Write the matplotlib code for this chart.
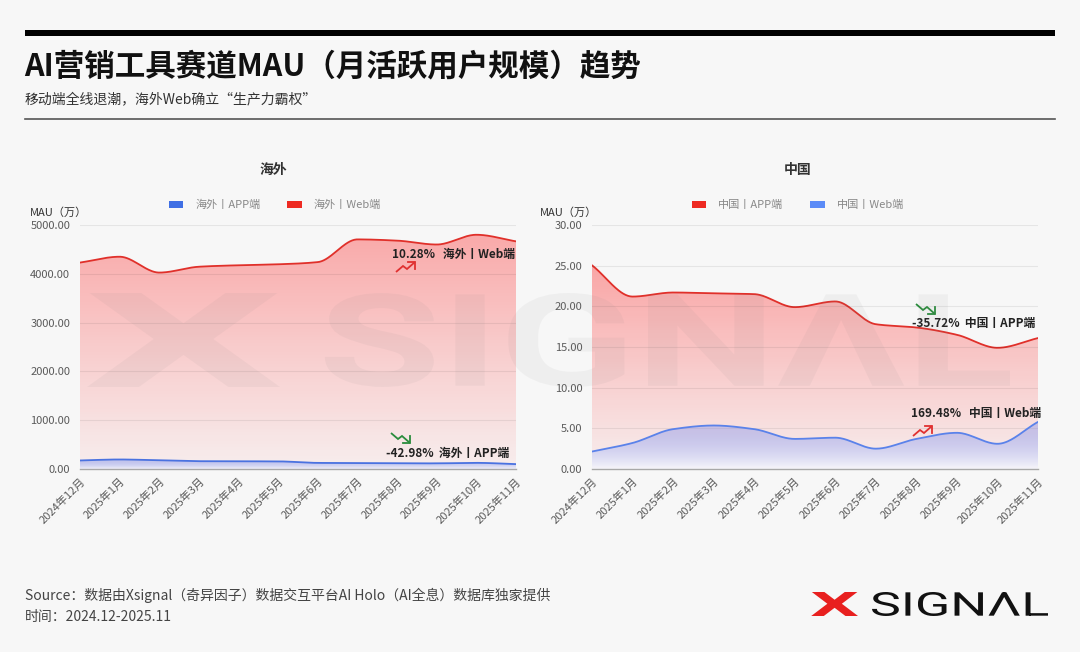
import numpy as np
import matplotlib
matplotlib.use("Agg")
import matplotlib.pyplot as plt
from matplotlib.patches import Patch, PathPatch, Rectangle
from matplotlib.path import Path
from matplotlib.textpath import TextPath
from matplotlib.font_manager import FontProperties
from matplotlib.transforms import Affine2D
from matplotlib.lines import Line2D

# ---------------- data ----------------
months = ["2024年12月", "2025年1月", "2025年2月", "2025年3月", "2025年4月", "2025年5月",
          "2025年6月", "2025年7月", "2025年8月", "2025年9月", "2025年10月", "2025年11月"]
overseas_app = [175, 195, 178, 160, 158, 156, 125, 122, 115, 116, 126, 100]
overseas_web = [4230, 4350, 4025, 4145, 4175, 4195, 4240, 4705, 4680, 4600, 4800, 4665]
china_app = [25.05, 21.2, 21.7, 21.6, 21.5, 19.9, 20.6, 17.8, 17.4, 16.5, 14.9, 16.1]
china_web = [2.15, 3.2, 4.9, 5.35, 4.9, 3.7, 3.85, 2.5, 3.7, 4.45, 3.1, 5.79]

overseas_ticks = [0, 1000, 2000, 3000, 4000, 5000]
china_ticks = [0, 5, 10, 15, 20, 25, 30]

title = "AI营销工具赛道MAU（月活跃用户规模）趋势"
subtitle = "移动端全线退潮，海外Web确立“生产力霸权”"
source = "Source：数据由Xsignal（奇异因子）数据交互平台AI Holo（AI全息）数据库独家提供"
period = "时间：2024.12-2025.11"

W, H = 1080, 652
BG = "#f7f7f7"
plt.rcParams["font.family"] = ["Noto Sans CJK SC", "DejaVu Sans"]

fig = plt.figure(figsize=(W / 100, H / 100), dpi=100, facecolor=BG)


def fx(x):
    return x / W


def fy(y):
    return 1 - y / H


def pchip(y, n=400):
    y = np.asarray(y, float)
    x = np.arange(len(y), dtype=float)
    h = np.diff(x)
    delta = np.diff(y) / h
    d = np.zeros_like(y)
    for k in range(1, len(y) - 1):
        if delta[k - 1] * delta[k] > 0:
            w1 = 2 * h[k] + h[k - 1]
            w2 = h[k] + 2 * h[k - 1]
            d[k] = (w1 + w2) / (w1 / delta[k - 1] + w2 / delta[k])
    d[0] = delta[0]
    d[-1] = delta[-1]
    xs = np.linspace(0, x[-1], n)
    idx = np.clip(np.searchsorted(x, xs) - 1, 0, len(x) - 2)
    t = (xs - x[idx]) / h[idx]
    h00 = 2 * t**3 - 3 * t**2 + 1
    h10 = t**3 - 2 * t**2 + t
    h01 = -2 * t**3 + 3 * t**2
    h11 = t**3 - t**2
    ys = h00 * y[idx] + h10 * h[idx] * d[idx] + h01 * y[idx + 1] + h11 * h[idx] * d[idx + 1]
    return xs, ys


def area(ax, y, line_color, top_rgba, bot_rgba, z):
    xs, ys = pchip(y)
    verts = [(xs[0], 0)] + list(zip(xs, ys)) + [(xs[-1], 0), (xs[0], 0)]
    path = Path(verts, closed=True)
    top = np.array(top_rgba, float)
    bot = np.array(bot_rgba, float)
    g = np.linspace(0, 1, 256)[:, None, None]
    img = bot + (top - bot) * g
    im = ax.imshow(img, extent=[xs[0], xs[-1], 0, ys.max()], origin="lower",
                   aspect="auto", zorder=z, interpolation="bilinear")
    patch = PathPatch(path, transform=ax.transData, facecolor="none", edgecolor="none")
    ax.add_patch(patch)
    im.set_clip_path(patch)
    ax.plot(xs, ys, color=line_color, lw=1.3, zorder=z + 0.5, solid_capstyle="round")


def setup_axes(ax, ticks):
    ax.set_facecolor("none")
    ax.set_xlim(0, len(months) - 1)
    ax.set_ylim(ticks[0], ticks[-1])
    ax.set_yticks(ticks)
    ax.set_yticklabels([f"{t:.2f}" for t in ticks])
    ax.set_xticks(range(len(months)))
    ax.set_xticklabels(months, rotation=45, ha="right", va="top", rotation_mode="anchor")
    for s in ["top", "right", "left"]:
        ax.spines[s].set_visible(False)
    ax.spines["bottom"].set_color("#a8a8a8")
    ax.spines["bottom"].set_linewidth(1.0)
    ax.spines["bottom"].set_zorder(6)
    ax.tick_params(axis="both", length=0, labelsize=8, labelcolor="#5a5a5a")
    ax.tick_params(axis="y", pad=7)
    ax.tick_params(axis="x", pad=5)
    ax.grid(axis="y", color="#000000", alpha=0.07, lw=0.8, zorder=5)
    ax.set_axisbelow(False)


RED = "#e0302a"
RED_L = "#ee2a22"
BLUE = "#4a72e0"
BLUE2 = "#5a82ea"

# ---------------- left panel ----------------
axL = fig.add_axes([fx(80), fy(469), fx(516) - fx(80), fy(225) - fy(469)])
area(axL, overseas_web, RED, (1.0, 0.12, 0.12, 0.36), (1.0, 0.2, 0.2, 0.05), 2)
area(axL, overseas_app, BLUE, (0.35, 0.45, 0.92, 0.30), (0.96, 0.96, 0.99, 0.85), 3)
setup_axes(axL, overseas_ticks)
hl = [Patch(facecolor="#3f6fe4", label="海外丨APP端"), Patch(facecolor=RED_L, label="海外丨Web端")]
axL.legend(handles=hl, loc="center", bbox_to_anchor=(fx(275), fy(205)), bbox_transform=fig.transFigure,
           ncol=2, frameon=False, fontsize=8, labelcolor="#888888", handlelength=1.3,
           handleheight=0.6, handletextpad=1.1, columnspacing=2.4)

# ---------------- right panel ----------------
axR = fig.add_axes([fx(592), fy(469), fx(1038) - fx(592), fy(225) - fy(469)])
area(axR, china_app, RED, (1.0, 0.12, 0.12, 0.38), (1.0, 0.2, 0.2, 0.05), 2)
area(axR, china_web, BLUE2, (0.40, 0.48, 0.92, 0.30), (0.97, 0.97, 0.99, 0.85), 3)
setup_axes(axR, china_ticks)
hr = [Patch(facecolor=RED_L, label="中国丨APP端"), Patch(facecolor="#5b8bf7", label="中国丨Web端")]
axR.legend(handles=hr, loc="center", bbox_to_anchor=(fx(798), fy(205)), bbox_transform=fig.transFigure,
           ncol=2, frameon=False, fontsize=8, labelcolor="#888888", handlelength=1.3,
           handleheight=0.6, handletextpad=1.1, columnspacing=2.4)

# panel titles and axis names
fig.text(fx(273), fy(170), "海外", ha="center", va="center", fontsize=10, fontweight="bold", color="#333333")
fig.text(fx(798), fy(170), "中国", ha="center", va="center", fontsize=10, fontweight="bold", color="#333333")
fig.text(fx(30), fy(213), "MAU（万）", ha="left", va="center", fontsize=8, color="#333333")
fig.text(fx(540), fy(213), "MAU（万）", ha="left", va="center", fontsize=8, color="#333333")


# ---------------- annotations ----------------
def zig(x0, y0, up, color):
    # small zigzag trend icon with open arrowhead, pixel offsets from (x0, y0)
    s = -1 if up else 1
    pts = [(0, 0), (7, 6 * s), (11, 3 * s), (19, 10 * s)]
    fig.add_artist(Line2D([fx(x0 + p[0]) for p in pts], [fy(y0 + p[1]) for p in pts],
                          color=color, lw=1.3, transform=fig.transFigure,
                          solid_joinstyle="miter", solid_capstyle="butt"))
    tip = pts[-1]
    head = [(tip[0] - 7, tip[1]), tip, (tip[0], tip[1] - 7 * s)]
    fig.add_artist(Line2D([fx(x0 + p[0]) for p in head], [fy(y0 + p[1]) for p in head],
                          color=color, lw=1.3, transform=fig.transFigure,
                          solid_joinstyle="miter"))


GREEN = "#2a8c3c"
ann_kw = dict(fontsize=8.5, fontweight="bold", color="#222222", va="center", ha="left")
fig.text(fx(392), fy(254), "10.28%   海外丨Web端", **ann_kw)
zig(396, 272, True, "#e03030")
fig.text(fx(386), fy(453), "-42.98%  海外丨APP端", **ann_kw)
zig(391, 433, False, GREEN)
fig.text(fx(912), fy(323), "-35.72%  中国丨APP端", **ann_kw)
zig(916, 304, False, GREEN)
fig.text(fx(911), fy(413), "169.48%   中国丨Web端", **ann_kw)
zig(913, 436, True, "#e03030")

# ---------------- header / footer ----------------
fig.patches.append(Rectangle((fx(25), fy(36)), fx(1055) - fx(25), fy(30) - fy(36),
                             transform=fig.transFigure, facecolor="#000000", edgecolor="none"))
fig.add_artist(Line2D([fx(25), fx(1055)], [fy(119), fy(119)], color="#555555", lw=1.2,
                      transform=fig.transFigure))
fig.text(fx(24), fy(66), title, ha="left", va="center", fontsize=22, fontweight="bold", color="#111111")
fig.text(fx(25), fy(99), subtitle, ha="left", va="center", fontsize=10, color="#333333")
fig.text(fx(25), fy(595), source, ha="left", va="center", fontsize=10, color="#444444")
fig.text(fx(25), fy(617), period, ha="left", va="center", fontsize=10, color="#444444")


# ---------------- logo / watermark ----------------
def text_in_box(s, x0, y0, x1, y1, color, alpha=1.0, family="Roboto", weight="normal", z=10):
    tp = TextPath((0, 0), s, size=100, prop=FontProperties(family=family, weight=weight))
    v = tp.vertices
    bx0, by0 = v[:, 0].min(), v[:, 1].min()
    bx1, by1 = v[:, 0].max(), v[:, 1].max()
    sx = (fx(x1) - fx(x0)) / (bx1 - bx0)
    sy = (fy(y0) - fy(y1)) / (by1 - by0)
    tr = Affine2D().translate(-bx0, -by0).scale(sx, sy).translate(fx(x0), fy(y1))
    p = PathPatch(tr.transform_path(tp), transform=fig.transFigure, facecolor=color,
                  edgecolor="none", alpha=alpha, zorder=z)
    fig.add_artist(p)


# logo
text_in_box("X", 810, 592, 858, 616, "#e8201f", family="DejaVu Sans", weight="bold")
text_in_box("SIGNΛL", 870, 592, 1048, 616, "#111111", family="Roboto")

# watermark (scaled logo)
text_in_box("X", 82, 293, 280, 387, "#808080", alpha=0.07, family="DejaVu Sans", weight="bold")
text_in_box("SIGNΛL", 318, 293, 1010, 387, "#808080", alpha=0.07, family="Roboto", weight="bold")

fig.savefig("out.png", dpi=100, facecolor=BG)
